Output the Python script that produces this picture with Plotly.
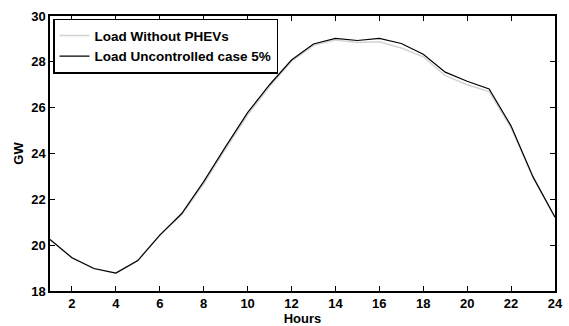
import plotly.graph_objects as go

hours = list(range(1, 25))
load_without_phev = [20.25, 19.45, 18.98, 18.78, 19.33, 20.42, 21.33, 22.68, 24.20, 25.68,
                     26.92, 28.02, 28.72, 28.95, 28.84, 28.88, 28.60, 28.22, 27.40, 27.00,
                     26.70, 25.12, 22.95, 21.22]
load_uncontrolled_5 = [20.25, 19.45, 18.98, 18.78, 19.33, 20.44, 21.38, 22.77, 24.30, 25.78,
                       27.00, 28.08, 28.78, 29.02, 28.93, 29.02, 28.80, 28.33, 27.55, 27.15,
                       26.82, 25.20, 22.98, 21.22]
x_ticks = list(range(2, 25, 2))
y_ticks = list(range(18, 31, 2))

font = dict(family="Liberation Sans, Arial, sans-serif", size=13, color="black")

fig = go.Figure()
fig.add_trace(go.Scatter(x=hours, y=load_without_phev, mode="lines",
                         name="<b>Load Without PHEVs</b>",
                         line=dict(color="#d4d4d4", width=1.5)))
fig.add_trace(go.Scatter(x=hours, y=load_uncontrolled_5, mode="lines",
                         name="<b>Load Uncontrolled case 5%</b>",
                         line=dict(color="black", width=1.2)))

axis_common = dict(showline=True, linecolor="black", linewidth=1.5, mirror="ticks",
                   ticks="inside", ticklen=5, tickwidth=1, tickcolor="black",
                   showgrid=False, zeroline=False, tickfont=dict(font, size=13))

fig.update_xaxes(range=[1, 24], tickvals=x_ticks,
                 ticktext=[f"<b>{t}</b>" for t in x_ticks],
                 title=dict(text="<b>Hours</b>", font=font, standoff=0), **axis_common)
fig.update_yaxes(range=[18, 30], tickvals=y_ticks,
                 ticktext=[f"<b>{t}</b>" for t in y_ticks],
                 title=dict(text="<b>GW</b>", font=font, standoff=5), **axis_common)

fig.update_layout(
    width=569, height=326,
    margin=dict(l=50, r=6, t=16, b=27),
    paper_bgcolor="white", plot_bgcolor="white",
    font=font,
    showlegend=True,
    legend=dict(x=0.006, y=0.99, xanchor="left", yanchor="top",
                bgcolor="white", bordercolor="black", borderwidth=1.5,
                font=dict(font, size=13.5), tracegroupgap=0, itemwidth=30),
)

fig.write_html("out.html")
